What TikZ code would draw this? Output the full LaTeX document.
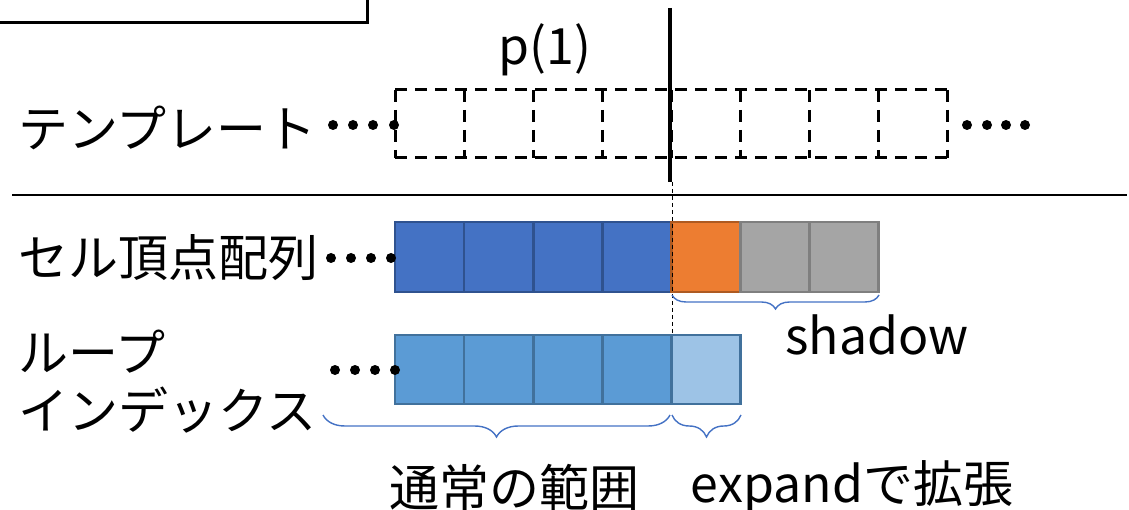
\documentclass[tikz,border=0pt]{standalone}
\usepackage{fontspec}
\setmainfont{Noto Sans CJK JP}
\usetikzlibrary{decorations.pathreplacing}
\definecolor{cellblue}{HTML}{4472C4}
\definecolor{cellblueedge}{HTML}{2F528F}
\definecolor{cellorange}{HTML}{ED7D31}
\definecolor{cellorangeedge}{HTML}{AE5A21}
\definecolor{cellgray}{HTML}{A5A5A5}
\definecolor{cellgrayedge}{HTML}{7F7F7F}
\definecolor{loopblue}{HTML}{5B9BD5}
\definecolor{looplight}{HTML}{9DC3E6}
\definecolor{loopedge}{HTML}{41719C}
\definecolor{bracecol}{HTML}{4472C4}
\tikzset{
  lbl/.style={inner sep=0pt, font=\fontsize{50}{60}\selectfont},
  tcell/.style={minimum width=69.1pt, minimum height=68pt, inner sep=0pt, outer sep=0pt, anchor=north west},
  tline/.style={dash pattern=on 12pt off 8pt, line width=3pt},
  vcell/.style={draw, line width=2.6pt, minimum width=69.1pt, minimum height=70pt,
    inner sep=0pt, outer sep=0pt, anchor=north west},
  lcell/.style={draw=loopedge, line width=2.6pt, minimum width=69.1pt, minimum height=69pt,
    inner sep=0pt, outer sep=0pt, anchor=north west},
  dot/.style={circle, fill=black, minimum size=10pt, inner sep=0pt},
  bracket/.style={draw=bracecol, line width=1.4pt, decorate,
    decoration={brace, mirror}},
}
\begin{document}
\begin{tikzpicture}[x=1pt, y=-1pt]
\useasboundingbox (0,0) rectangle (1129,510);

% frame corner at the top left
\coordinate (fa) at (0,23);
\coordinate (fb) at (367,23);
\coordinate (fc) at (367,-3);
\draw[line width=3pt] (fa) -- (fb) -- (fc);

% template row: dashed outline with dashed dividers
\foreach \i in {0,...,7}
  \node[tcell] (t\i) at ({395+69.1*\i},90) {};
\draw[tline] (t0.north west) -- (t7.north east);
\draw[tline] (t0.south west) -- (t7.south east);
\draw[tline] (t0.north west) -- (t0.south west);
\foreach \i in {0,...,7}
  \draw[tline] (t\i.north east) -- (t\i.south east);
\node[lbl, anchor=west] (ltemp) at (18,128) {テンプレート};
\foreach \i/\x in {1/333,2/353,3/373,4/394}
  \node[dot] (td\i) at (\x,125) {};
\foreach \i/\x in {1/967,2/987,3/1006,4/1025}
  \node[dot] (tr\i) at (\x,125) {};
\node[lbl] (p1) at (545,50) {p(1)};

% separator
\coordinate (sa) at (12,195);
\coordinate (sb) at (1127,195);
\draw[line width=2pt] (sa) -- (sb);

% cell vertex array
\foreach \i in {0,...,3}
  \node[vcell, fill=cellblue, draw=cellblueedge] (v\i) at ({395+69.1*\i},222) {};
\node[vcell, fill=cellorange, draw=cellorangeedge] (v4) at ({395+69.1*4},222) {};
\node[vcell, fill=cellgray, draw=cellgrayedge] (v5) at ({395+69.1*5},222) {};
\node[vcell, fill=cellgray, draw=cellgrayedge] (v6) at ({395+69.1*6},222) {};
\node[lbl, anchor=west] (lcell) at (18,258) {セル頂点配列};
\foreach \i/\x in {1/331,2/351,3/371,4/391}
  \node[dot] (vd\i) at (\x,258) {};

% loop index
\foreach \i in {0,...,3}
  \node[lcell, fill=loopblue] (l\i) at ({395+69.1*\i},335) {};
\node[lcell, fill=looplight] (l4) at ({395+69.1*4},335) {};
\node[lbl, anchor=west] (lloop) at (18,352) {ループ};
\node[lbl, anchor=west] (lidx) at (18,410) {インデックス};
\foreach \i/\x in {1/335,2/355,3/375,4/395}
  \node[dot] (ld\i) at (\x,370) {};

% split position p(1)
\coordinate (ptop) at (670,8);
\coordinate (pbot) at (670,182);
\draw[line width=4pt] (ptop) -- (pbot);
\coordinate (pdash) at (672,335);
\draw[line width=1pt, dash pattern=on 4pt off 3pt] (672,182) -- (pdash);

% braces
\coordinate (sh0) at (672,295);
\coordinate (sh1) at (879,295);
\draw[bracket, decoration={amplitude=14pt}] (sh0) -- (sh1);
\node[lbl] (lshadow) at (877,335) {shadow};

\coordinate (nr0) at (323,415);
\coordinate (nr1) at (670,415);
\draw[bracket, decoration={amplitude=22pt}] (nr0) -- (nr1);
\coordinate (ex0) at (672,415);
\coordinate (ex1) at (741,415);
\draw[bracket, decoration={amplitude=22pt}] (ex0) -- (ex1);
\node[lbl] (lnormal) at (514,487) {通常の範囲};
\node[lbl] (lexpand) at (852,487) {expandで拡張};
\end{tikzpicture}
\end{document}
